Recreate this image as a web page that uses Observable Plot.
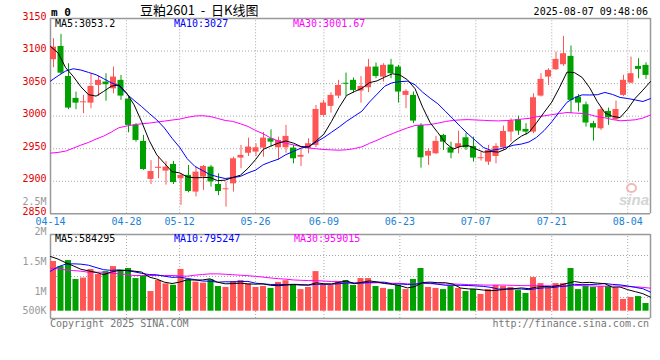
<!DOCTYPE html>
<html><head><meta charset="utf-8">
<script src="https://cdn.jsdelivr.net/npm/d3@7"></script>
<script src="https://cdn.jsdelivr.net/npm/@observablehq/plot@0.6"></script>
<style>
body{margin:0;background:#fff;}
#c{position:relative;width:660px;height:360px;overflow:hidden;font-family:"DejaVu Sans Mono",monospace;background:#fff;}
#c svg{position:absolute;left:0;top:0;}
.t{position:absolute;white-space:pre;font-size:10px;line-height:10px;font-family:"DejaVu Sans Mono",monospace;}
</style></head><body><div id="c"></div>
<script>
// ---------------- data ----------------
const dates = ["04-14","04-15","04-16","04-17","04-18","04-21","04-22","04-23","04-24","04-25",
"04-28","04-29","04-30","05-06","05-07","05-08","05-09","05-12","05-13","05-14",
"05-15","05-16","05-19","05-20","05-21","05-22","05-23","05-26","05-27","05-28",
"05-29","05-30","06-03","06-04","06-05","06-06","06-09","06-10","06-11","06-12",
"06-13","06-16","06-17","06-18","06-19","06-20","06-23","06-24","06-25","06-26",
"06-27","06-30","07-01","07-02","07-03","07-04","07-07","07-08","07-09","07-10",
"07-11","07-14","07-15","07-16","07-17","07-18","07-21","07-22","07-23","07-24",
"07-25","07-28","07-29","07-30","07-31","08-01","08-04","08-05","08-06","08-07"];
const openP = [3086.7,3107,3061,3027.3,3020.5,3020,3047.2,3052.4,3042,3055,
3026.2,2986.3,2961.2,2902.8,2919.8,2915.6,2925.8,2903.8,2909,2883.3,
2906.4,2921.7,2895,2886.9,2896,2935.6,2943,2944.8,2950.9,2965.3,
2951.4,2951.4,2950.9,2937,2950,2955,3001.1,3015,3030.8,3050.5,
3055,3038.5,3043.6,3075.4,3060,3078.5,3075.4,3031.9,3031.9,2985.8,
2938.6,2942.2,2970.4,2951.4,2951.4,2966.8,2953.5,2934.6,2929.4,2938,
2951.4,2975.5,2994.5,2979.6,2975.5,3030.8,3060,3071.3,3079,3091.8,
3029.3,3017.5,2988.5,2980.6,3007.3,2994.5,3031.9,3050.8,3076.4,3078];
const highP = [3119,3125.6,3080.5,3037,3032,3065,3061.6,3065,3075.4,3062.6,
3029.3,2988.5,2970.4,2931.7,2937,2930.4,2930.4,2911.5,2924.3,2921.7,
2924.3,2924.3,2911.5,2898.7,2937,2955,2966.3,2957.6,2975,2979,
2967.8,2985.8,2955,2950,2965.3,3016.5,3024.2,3036,3055,3066.2,
3058.5,3061,3087.2,3081.6,3080.5,3087.2,3078,3040.6,3037,2988.5,
2950,2968.9,2972,2960,2977,2974,2967.8,2944.8,2955,2957.6,
2984.7,2996,3000,2988.5,3034.4,3065.2,3072.8,3098.5,3122.5,3107.7,
3033.4,3021.6,2992,3012.9,3012.4,3023.2,3062.6,3090.8,3088.2,3082];
const lowP = [3074.4,3064,3010,3010,3003.7,3011.4,3030.3,3023,3034.4,3024.2,
2974.5,2960,2916.6,2895,2904,2894,2895,2863,2882.3,2876,
2886,2891,2878,2860.2,2883.3,2919.2,2938,2938,2937,2952.5,
2932,2943,2926.8,2922.7,2942.2,2951.4,2998.6,3004.7,3026.7,3030.3,
3035.5,3020,3036,3057.5,3052.4,3057.5,3020,3011.4,2988.5,2920.2,
2924.3,2941.2,2947.3,2934.5,2942.2,2947.3,2929.4,2931,2924.3,2926.8,
2947.3,2960.1,2970.4,2970.4,2973,3029.3,3047.2,3070.3,3076.4,3003.7,
3006.3,2983.2,2961.7,2978,2985.8,2993.4,3030.3,3049.8,3057.5,3056.5];
const closeP = [3106,3066,3012.4,3020,3022,3045.7,3055,3048.3,3060,3030.8,
2985.8,2962.7,2918,2915,2921.5,2921.7,2898,2909,2884.3,2914,
2922.7,2899,2884.3,2888.4,2934.5,2939.7,2952.5,2951.4,2966.3,2960.1,
2962.7,2968.9,2934.5,2939.7,2957.6,3010.3,3020.1,3031.9,3047.2,3049,
3039.5,3045.7,3075.4,3061,3078,3065.2,3037,3038,2992.4,2936,
2945.8,2961.2,2960.1,2943.2,2957.6,2951.4,2935.6,2936.2,2947.3,2953.5,
2976.5,2992.4,2977,2975.5,3028.3,3056.5,3070.3,3087.2,3095.9,3024.2,
3020.1,2989.5,2981.8,3009.8,2997.5,3010.3,3055,3065.2,3071.8,3062.6];
const ma5 = [3107.2,3096.9,3074.4,3061,3045.1,3033.0,3030.8,3038.0,3046.0,3048.0,
3036.0,3017.5,2991.5,2962.5,2940.4,2927.6,2914.7,2912.9,2906.7,2905.4,
2905.6,2905.8,2900.9,2901.7,2905.8,2909.2,2919.9,2933.3,2948.9,2954.0,
2958.6,2961.9,2958.5,2953.2,2952.7,2962.2,2972.4,2991.9,3013.4,3031.8,
3037.6,3042.8,3051.5,3054.2,3059.9,3065.1,3063.3,3055.8,3042.1,3013.7,
2989.8,2974.7,2959.1,2949.3,2953.6,2954.7,2949.6,2944.8,2945.6,2944.8,
2949.8,2961.1,2969.3,2975.0,2989.9,3005.9,3021.5,3043.6,3067.6,3066.8,
3059.5,3043.4,3022.3,3005.1,2999.7,2997.8,3010.9,3027.6,3040.0,3053.2];
const ma10 = [3053.9,3062,3069.3,3072.8,3070.8,3067.2,3063.6,3057.5,3051.3,3046.5,
3034.5,3024.2,3014.7,3004.2,2994.2,2981.8,2966.1,2952.2,2934.6,2922.9,
2916.6,2910.2,2906.9,2904.2,2905.6,2907.4,2912.8,2917.1,2925.3,2929.9,
2933.9,2940.9,2945.9,2951.0,2953.3,2960.4,2967.2,2975.2,2983.3,2992.2,
2999.9,3007.6,3021.7,3033.8,3045.9,3051.4,3053.0,3053.7,3048.2,3036.8,
3027.5,3019.0,3007.5,2995.7,2983.7,2972.3,2962.1,2951.9,2947.4,2949.2,
2952.2,2955.4,2957.1,2960.3,2967.4,2977.9,2991.3,3006.5,3021.3,3028.4,
3032.7,3032.5,3032.9,3036.4,3033.3,3028.7,3027.1,3024.9,3022.5,3027.0];
const ma30 = [2943.2,2944.3,2946.3,2950.9,2955.5,2959.6,2964.8,2969.4,2975.5,2982.2,
2984.7,2986.8,2988.3,2989.3,2990.9,2992.4,2994,2995.5,2998.1,3000.2,
3000.7,2999.6,2996.5,2993.4,2991.9,2988.3,2984.2,2978,2973,2966.4,
2961.7,2958.4,2955.8,2953.2,2951.0,2949.9,2948.7,2948.2,2947.7,2948.4,
2950.1,2952.9,2958.2,2963.0,2968.3,2973.0,2977.7,2982.0,2985.6,2986.3,
2987.1,2989.2,2991.7,2993.5,2994.3,2994.7,2994.1,2993.6,2993.0,2992.7,
2993.2,2994.0,2995.4,2996.6,2999.0,3000.5,3002.2,3004.0,3005.6,3004.8,
3004.1,3002.3,2999.2,2997.4,2994.8,2992.9,2993.5,2994.4,2997.1,3001.7];
// volume, millions of lots
const volumeM = [2.07,1.86,2.11,1.32,1.38,1.74,1.53,1.65,1.86,1.70,
1.78,1.36,1.45,0.82,1.28,1.14,1.08,1.74,1.31,1.21,
1.17,1.31,1.03,0.99,1.24,1.28,1.14,0.99,1.03,0.95,
1.20,1.27,1.11,0.90,0.99,1.65,1.07,1.07,1.24,1.28,
1.07,1.36,1.36,1.03,0.95,0.90,1.07,0.90,1.32,1.78,
0.99,0.95,0.90,1.03,0.95,0.82,0.90,0.70,0.90,1.07,
1.03,0.99,0.86,0.74,1.40,1.15,0.95,1.15,1.15,1.78,
0.90,1.03,0.99,1.03,1.03,0.95,0.49,0.57,0.61,0.32];
const vma5 = [2.28,2.17,2.02,1.89,1.748,1.682,1.616,1.524,1.632,1.696,
1.704,1.67,1.63,1.422,1.338,1.21,1.154,1.212,1.31,1.296,
1.302,1.348,1.206,1.142,1.148,1.17,1.136,1.128,1.136,1.078,
1.062,1.088,1.112,1.086,1.094,1.184,1.144,1.136,1.204,1.262,
1.146,1.204,1.262,1.22,1.154,1.12,1.062,0.97,1.028,1.194,
1.212,1.188,1.188,1.13,0.964,0.93,0.92,0.88,0.854,0.878,
0.92,0.938,0.97,0.938,1.004,1.028,1.02,1.078,1.16,1.236,
1.186,1.202,1.17,1.146,0.996,1.006,0.898,0.814,0.73,0.584];
const vma10 = [1.667,1.85,1.96,1.975,1.96,1.917,1.82,1.73,1.70,1.722,
1.693,1.643,1.577,1.527,1.517,1.457,1.412,1.421,1.366,1.317,
1.256,1.251,1.209,1.226,1.222,1.236,1.242,1.167,1.139,1.113,
1.116,1.112,1.12,1.111,1.086,1.123,1.116,1.124,1.145,1.178,
1.165,1.174,1.199,1.212,1.208,1.133,1.133,1.116,1.124,1.174,
1.166,1.125,1.079,1.079,1.079,1.071,1.054,1.034,0.992,0.921,
0.925,0.929,0.925,0.896,0.941,0.974,0.979,1.024,1.049,1.12,
1.107,1.111,1.124,1.153,1.116,1.096,1.05,0.992,0.938,0.795];
const vma30 = [1.79,1.765,1.72,1.695,1.667,1.625,1.625,1.625,1.583,1.556,
1.53,1.487,1.487,1.487,1.487,1.487,1.487,1.473,1.458,1.5,
1.53,1.556,1.556,1.54,1.52,1.50,1.48,1.45,1.42,1.384,
1.355,1.335,1.302,1.288,1.275,1.272,1.257,1.237,1.217,1.203,
1.179,1.179,1.176,1.183,1.172,1.164,1.164,1.136,1.136,1.155,
1.149,1.137,1.133,1.134,1.124,1.109,1.101,1.091,1.087,1.091,
1.085,1.076,1.068,1.062,1.076,1.059,1.055,1.058,1.055,1.072,
1.066,1.055,1.043,1.043,1.045,1.047,1.028,1.017,0.993,0.959];
const dateTicks = ["04-14","04-28","05-12","05-26","06-09","06-23","07-07","07-21","08-04"];
const priceTicks = [3150,3100,3050,3000,2950,2900,2850];
const volTickVals = [2.5,2,1.5,1,0.5];
const volTickLabels = ["2.5M","2M","1.5M","1M","500K"];
const maPriceLabels = ["MA5:3053.2","MA10:3027","MA30:3001.67"];
const maVolLabels = ["MA5:584295","MA10:795247","MA30:959015"];

// ---------------- chart ----------------
const N = dates.length;
const idx = d3.range(N);
const rows = idx.map(i => ({i, open: openP[i], high: highP[i], low: lowP[i], close: closeP[i], vol: volumeM[i], up: closeP[i] >= openP[i]}));
const upRows = rows.filter(d => d.up), dnRows = rows.filter(d => !d.up);
const lineX = i => i * N / (N - 1);           // MA lines & grid use an N-1 step spacing
const gridIdx = dateTicks.map(t => dates.indexOf(t));
const RED = "#ff5555", GREEN = "#00a000", GRID = "#a8a8a8", FRAME = "#999", BLUE = "#1b82d4";
const FONT = "'DejaVu Sans Mono', monospace";
const style = {background: "transparent", fontFamily: FONT, fontSize: "10px"};
const xOpt = {type: "linear", domain: [0, N], axis: null};
const bodyW = 0.8;

const priceChart = Plot.plot({
  width: 660, height: 360, marginLeft: 50, marginRight: 10, marginTop: 18, marginBottom: 146.7,
  x: xOpt, y: {domain: [2850, 3150], axis: null}, style,
  marks: [
    Plot.ruleY(priceTicks.filter(v => v > 2850 && v < 3150), {stroke: GRID, strokeDasharray: "1,2"}),
    Plot.ruleX(gridIdx, {x: lineX, y1: 2850, y2: 3150, stroke: GRID, strokeDasharray: "1,2"}),
    Plot.ruleY([2850, 3150], {stroke: FRAME, strokeWidth: 1.5}),
    Plot.ruleX([0, N], {y1: 2850, y2: 3150, stroke: FRAME, strokeWidth: 1.5}),
    Plot.ruleX(upRows, {x: d => d.i + 0.4, y1: "low", y2: "high", stroke: RED}),
    Plot.ruleX(dnRows, {x: d => d.i + 0.4, y1: "low", y2: "high", stroke: GREEN}),
    Plot.rect(upRows, {x1: "i", x2: d => d.i + bodyW, y1: "open", y2: "close", fill: RED}),
    Plot.rect(dnRows, {x1: "i", x2: d => d.i + bodyW, y1: "open", y2: "close", fill: GREEN}),
    Plot.line(idx, {x: lineX, y: i => ma30[i], stroke: "#ff00ff", strokeWidth: 1}),
    Plot.line(idx, {x: lineX, y: i => ma10[i], stroke: "#0000ff", strokeWidth: 1}),
    Plot.line(idx, {x: lineX, y: i => ma5[i], stroke: "#000", strokeWidth: 1}),
    Plot.text(priceTicks, {x: 0, y: d => d, text: d => String(d), textAnchor: "end", dx: -4, dy: -2, fill: "#e00000"}),
    Plot.text(gridIdx, {x: lineX, y: 2850, text: i => dates[i], dy: 8, fill: BLUE})
  ]
});

const vDom = [-0.304, 3.196];
const volChart = Plot.plot({
  width: 660, height: 360, marginLeft: 50, marginRight: 10, marginTop: 234, marginBottom: 42,
  x: xOpt, y: {domain: vDom, axis: null}, style,
  marks: [
    Plot.ruleY([1, 2, 3].map(k => vDom[0] + k * (vDom[1] - vDom[0]) / 4), {stroke: GRID, strokeDasharray: "1,2"}),
    Plot.ruleX(gridIdx, {x: lineX, y1: vDom[0], y2: vDom[1], stroke: GRID, strokeDasharray: "1,2"}),
    Plot.ruleY(vDom, {stroke: FRAME, strokeWidth: 1.5}),
    Plot.ruleX([0, N], {y1: vDom[0], y2: vDom[1], stroke: FRAME, strokeWidth: 1.5}),
    Plot.rect(upRows, {x1: "i", x2: d => d.i + bodyW, y1: 0, y2: "vol", fill: RED}),
    Plot.rect(dnRows, {x1: "i", x2: d => d.i + bodyW, y1: 0, y2: "vol", fill: GREEN}),
    Plot.line(idx, {x: lineX, y: i => vma30[i], stroke: "#ff00ff", strokeWidth: 1}),
    Plot.line(idx, {x: lineX, y: i => vma10[i], stroke: "#0000ff", strokeWidth: 1}),
    Plot.line(idx, {x: lineX, y: i => vma5[i], stroke: "#000", strokeWidth: 1})
  ]
});

const volAxis = Plot.plot({
  width: 660, height: 360, marginLeft: 50, marginRight: 10, marginTop: 200, marginBottom: 40,
  x: xOpt, y: {domain: [0.5, 2.5], axis: null}, style,
  marks: [
    Plot.text(volTickVals.slice(0, 4), {x: 0, y: d => d, text: (d, i) => volTickLabels[i], textAnchor: "end", dx: -4, dy: 1, fill: "#999"}),
    Plot.text(volTickVals.slice(4), {x: 0, y: d => d, text: () => volTickLabels[4], textAnchor: "end", dx: -4, dy: -10, fill: "#999"})
  ]
});

const c = document.getElementById("c");
[priceChart, volChart, volAxis].forEach(s => c.appendChild(s));

function label(txt, css) {
  const d = document.createElement("div");
  d.className = "t"; d.textContent = txt;
  Object.assign(d.style, css);
  c.appendChild(d);
}
label("m 0", {left: "51px", top: "7px", fontWeight: "bold", fontSize: "11px", lineHeight: "11px"});
label("豆粕2601  -  日K线图", {left: "140px", top: "3px", fontSize: "13px", lineHeight: "13px", fontFamily: "'Noto Sans CJK SC', sans-serif", color: "#000"});
label("2025-08-07 09:48:06", {right: "12px", top: "7px", color: "#000"});
label(maPriceLabels[0], {left: "55px", top: "19px", color: "#000"});
label(maPriceLabels[1], {left: "174px", top: "19px", color: "#0000ff"});
label(maPriceLabels[2], {left: "293px", top: "19px", color: "#ff00ff"});
label(maVolLabels[0], {left: "55px", top: "233.5px", color: "#000"});
label(maVolLabels[1], {left: "174px", top: "233.5px", color: "#0000ff"});
label(maVolLabels[2], {left: "294px", top: "233.5px", color: "#ff00ff"});
label("Copyright 2025 SINA.COM", {left: "50px", top: "319px", color: "#777"});
label("http://finance.sina.com.cn", {right: "11px", top: "319px", color: "#777"});
// faint watermark
const eye = document.createElement("div");
Object.assign(eye.style, {position: "absolute", left: "626px", top: "183px", width: "7px", height: "6px", border: "2px solid #f0b8b8", borderRadius: "50%"});
c.appendChild(eye);
label("sina", {left: "619px", top: "192px", fontSize: "15px", lineHeight: "15px", fontStyle: "italic", fontWeight: "bold", fontFamily: "'Liberation Sans', sans-serif", color: "#d4d4d4"});
</script></body></html>
